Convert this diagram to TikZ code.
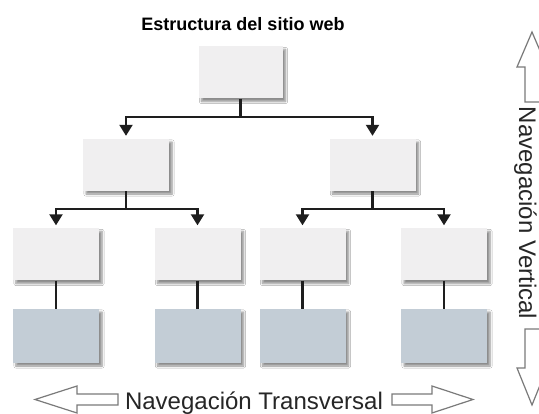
\documentclass[tikz,border=0pt]{standalone}
\usepackage{fontspec}
\setmainfont{Liberation Sans}
\usetikzlibrary{arrows.meta,shadows.blur}
\definecolor{boxlight}{HTML}{F0EFF0}
\definecolor{boxblue}{HTML}{C3CDD6}
\definecolor{linedark}{HTML}{1E1E1E}
\definecolor{hollowgray}{HTML}{7A7A7A}
\begin{document}
\begin{tikzpicture}[x=1pt,y=-1pt,
  pagebox/.style={inner sep=0pt, minimum width=86pt, minimum height=52pt, fill=boxlight,
    blur shadow={shadow xshift=3pt, shadow yshift=-3pt, shadow blur steps=6, shadow opacity=45}},
  leafbox/.style={pagebox, fill=boxblue, minimum height=54pt},
  conn/.style={draw=linedark, line width=2.2pt},
  arr/.style={conn, -{Triangle[width=13pt,length=11pt]}, shorten >=3pt},
  hollow/.style={draw=hollowgray, line width=1.2pt, fill=white, line join=miter},
  navtext/.style={font=\fontsize{24}{28}\selectfont, text=black!85, inner sep=0pt}
]
\clip (0,0) rectangle (539,414);
\fill[white] (0,0) rectangle (539,414);

\node[font=\bfseries\fontsize{18}{22}\selectfont, inner sep=0pt] (title) at (243,24) {Estructura del sitio web};

\node[pagebox, minimum width=84pt] (top) at (240.5,72.5) {};
\node[pagebox] (m1) at (126,165) {};
\node[pagebox] (m2) at (372.5,165) {};
\node[pagebox] (l1) at (56,254.5) {};
\node[pagebox] (l2) at (197.5,254.5) {};
\node[pagebox] (l3) at (302.5,254.5) {};
\node[pagebox] (l4) at (444,254.5) {};
\node[leafbox] (b1) at (56,336) {};
\node[leafbox] (b2) at (197.5,336) {};
\node[leafbox] (b3) at (302.5,336) {};
\node[leafbox] (b4) at (444,336) {};

\coordinate (j0) at (top.south |- 0,117);
\coordinate (j1) at (m1.south |- 0,209);
\coordinate (j2) at (m2.south |- 0,209);

\draw[conn] (top.south) -- (j0);
\draw[arr] (j0) -| (m1.north);
\draw[arr] (j0) -| (m2.north);
\draw[conn] (m1.south) -- (j1);
\draw[arr] (j1) -| (l1.north);
\draw[arr] (j1) -| (l2.north);
\draw[conn] (m2.south) -- (j2);
\draw[arr] (j2) -| (l3.north);
\draw[arr] (j2) -| (l4.north);
\draw[conn] (l1.south) -- (b1.north);
\draw[conn] (l2.south) -- (b2.north);
\draw[conn] (l3.south) -- (b3.north);
\draw[conn] (l4.south) -- (b4.north);

% hollow navigation arrows
\draw[hollow] (35,399.5) -- (77,386) -- (77,394) -- (118,394) -- (118,405) -- (77,405) -- (77,413) -- cycle;
\draw[hollow] (473,399.5) -- (432,386) -- (432,394) -- (392,394) -- (392,405) -- (432,405) -- (432,413) -- cycle;
\draw[hollow] (532,32) -- (517,67) -- (525,67) -- (525,102) -- (541,102) -- (541,67) -- (547,67) -- cycle;
\draw[hollow] (532,405) -- (517,368) -- (525,368) -- (525,329) -- (541,329) -- (541,368) -- (547,368) -- cycle;

\node[navtext, anchor=base] (navh) at (254,410) {Navegación Transversal};
\node[navtext, anchor=base, rotate=-90] (navv) at (519,213) {Navegación Vertical};
\end{tikzpicture}
\end{document}
